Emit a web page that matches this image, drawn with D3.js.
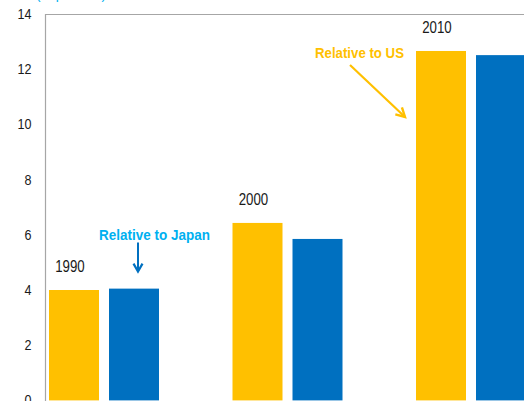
<!DOCTYPE html>
<html>
<head>
<meta charset="utf-8">
<script src="https://cdn.jsdelivr.net/npm/d3@7/dist/d3.min.js"></script>
<style>
  html, body { margin: 0; padding: 0; background: #fff; overflow: hidden; }
  svg { display: block; }
  text { font-family: "Liberation Sans", Arial, sans-serif; }
</style>
</head>
<body>
<svg id="chart" width="524" height="401"></svg>
<script>
// ---- data ----
const years = ["1990", "2000", "2010"];
const series = ["Relative to US", "Relative to Japan"];
const relativeToUS = [4.0, 6.43, 12.66];
const relativeToJapan = [4.05, 5.85, 12.51];
const yTicks = [0, 2, 4, 6, 8, 10, 12, 14];
const unitLabel = "(In percent)";

// ---- layout ----
const W = 524, H = 401;
const axisX = 45, topY = 14, zeroY = 400.4;
const colors = { "Relative to US": "#FFC000", "Relative to Japan": "#0070C0" };
const japanTextColor = "#00B0F0";
const FONT = "'Liberation Sans', Arial, sans-serif";

const svg = d3.select("#chart");

const y = d3.scaleLinear().domain([0, 14]).range([zeroY, topY]);
const x = d3.scaleBand().domain(years).range([49, 526]).paddingInner(73.5 / 183.5).paddingOuter(0);
const xs = d3.scaleBand().domain(series).range([0, x.bandwidth()]).paddingInner(1 / 6).paddingOuter(0);

const rows = years.map((yr, i) => ({ year: yr, values: [
  { s: series[0], v: relativeToUS[i] },
  { s: series[1], v: relativeToJapan[i] }
]}));

// unit label (cut off at top, as in the reference)
svg.append("text")
  .attr("x", 36).attr("y", -1.5)
  .attr("font-size", 14)
  .attr("fill", japanTextColor)
  .attr("textLength", 70).attr("lengthAdjust", "spacingAndGlyphs")
  .text(unitLabel);

// plot frame (top)
svg.append("line").attr("x1", axisX).attr("x2", W + 5).attr("y1", topY + 0.5).attr("y2", topY + 0.5)
  .attr("stroke", "#A6A6A6").attr("stroke-width", 1.2);

// bars
const g = svg.selectAll("g.year").data(rows).join("g")
  .attr("class", "year")
  .attr("transform", d => `translate(${x(d.year)},0)`);
g.selectAll("rect").data(d => d.values).join("rect")
  .attr("x", d => xs(d.s))
  .attr("width", xs.bandwidth())
  .attr("y", d => y(d.v))
  .attr("height", d => y(0) - y(d.v))
  .attr("fill", d => colors[d.s]);

// y axis
const yAxis = d3.axisLeft(y).tickValues(yTicks).tickSize(0).tickPadding(14);
const ag = svg.append("g").attr("transform", `translate(${axisX + 0.5},0)`).call(yAxis);
ag.select(".domain").attr("stroke", "#A6A6A6").attr("stroke-width", 1.2)
  .attr("d", `M0,${topY}V${H + 5}`);
ag.selectAll("text")
  .attr("font-size", 14).attr("fill", "#1a1a1a").attr("font-family", FONT)
  .attr("textLength", d => String(d).length * 7).attr("lengthAdjust", "spacingAndGlyphs");

// year labels
svg.selectAll("text.yr").data(rows).join("text")
  .attr("class", "yr")
  .attr("x", d => x(d.year) + xs(series[0]) + xs.bandwidth() / 2 - 4)
  .attr("y", d => y(d.values[0].v) - 18)
  .attr("text-anchor", "middle")
  .attr("font-size", 16.5)
  .attr("fill", "#1a1a1a")
  .attr("textLength", 29.5).attr("lengthAdjust", "spacingAndGlyphs")
  .text(d => d.year);

// annotation: Relative to Japan
const jx = x(years[0]) + xs(series[1]) + xs.bandwidth() / 2 + 4;
const jTop = y(relativeToJapan[0]);
svg.append("text")
  .attr("x", jx - 39).attr("y", jTop - 49)
  .attr("font-size", 15.5).attr("font-weight", "bold")
  .attr("fill", japanTextColor)
  .attr("textLength", 111).attr("lengthAdjust", "spacingAndGlyphs")
  .text(series[1]);
svg.append("line")
  .attr("x1", jx).attr("x2", jx).attr("y1", jTop - 46).attr("y2", jTop - 18)
  .attr("stroke", "#0070C0").attr("stroke-width", 2);
svg.append("path")
  .attr("d", `M${jx - 4.5},${jTop - 25}L${jx},${jTop - 17}L${jx + 4.5},${jTop - 25}`)
  .attr("fill", "none").attr("stroke", "#0070C0").attr("stroke-width", 2.2).attr("stroke-linejoin", "miter");

// annotation: Relative to US
const ux = x(years[2]) + xs(series[0]);
const uTop = y(relativeToUS[2]);
svg.append("text")
  .attr("x", ux - 101).attr("y", uTop + 7)
  .attr("font-size", 15.5).attr("font-weight", "bold")
  .attr("fill", colors[series[0]])
  .attr("textLength", 89).attr("lengthAdjust", "spacingAndGlyphs")
  .text(series[0]);
const ax1 = ux - 66, ay1 = uTop + 14, ax2 = ux - 11, ay2 = uTop + 66;
svg.append("line")
  .attr("x1", ax1).attr("y1", ay1).attr("x2", ax2).attr("y2", ay2)
  .attr("stroke", colors[series[0]]).attr("stroke-width", 2.2);
(function () {
  const ang = Math.atan2(ay2 - ay1, ax2 - ax1);
  const L = 10, spread = 0.5;
  const p1 = [ax2 - L * Math.cos(ang - spread), ay2 - L * Math.sin(ang - spread)];
  const p2 = [ax2 - L * Math.cos(ang + spread), ay2 - L * Math.sin(ang + spread)];
  svg.append("path")
    .attr("d", `M${p1[0]},${p1[1]}L${ax2},${ay2}L${p2[0]},${p2[1]}`)
    .attr("fill", "none").attr("stroke", colors[series[0]]).attr("stroke-width", 2.4);
})();
</script>
</body>
</html>
